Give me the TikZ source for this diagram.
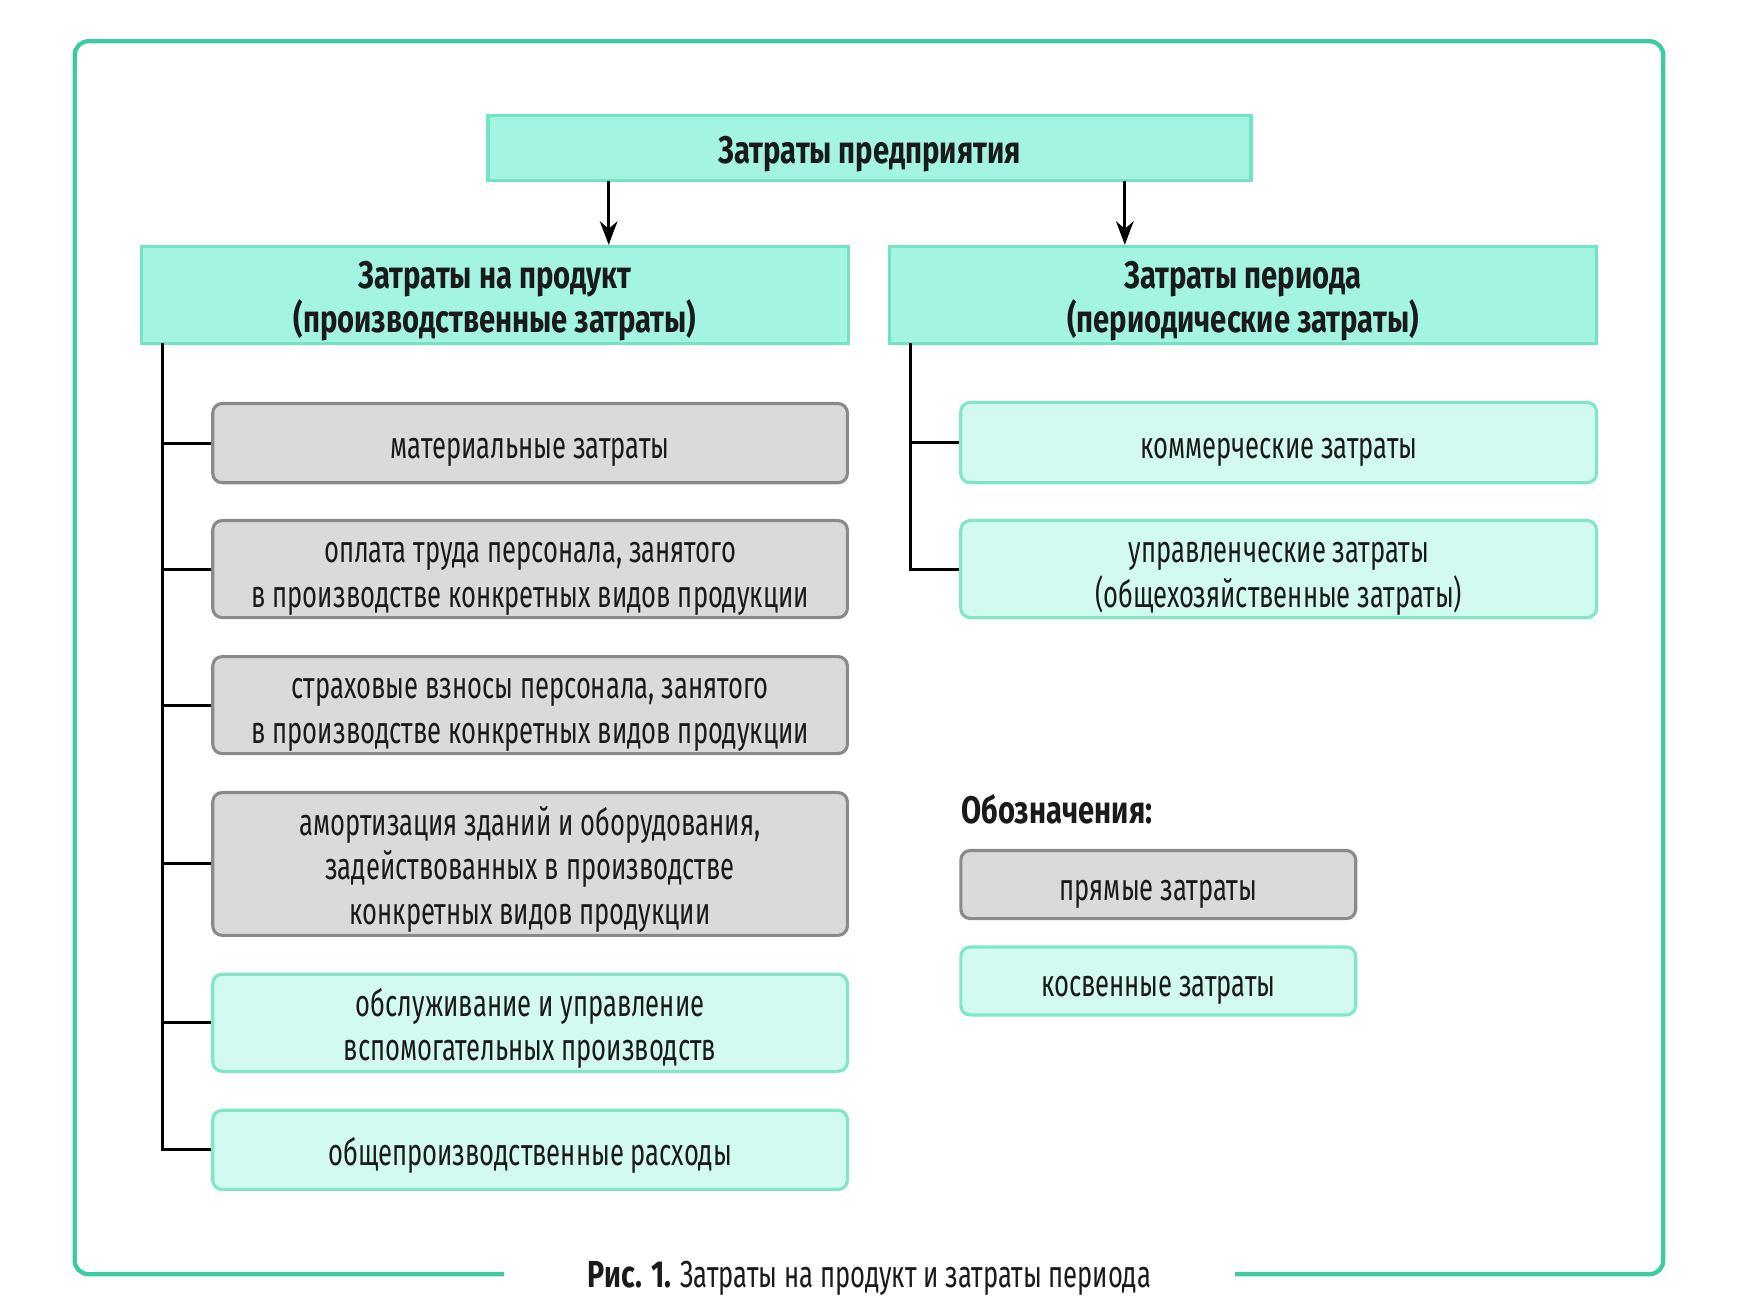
\documentclass[tikz,border=0pt]{standalone}
\usepackage{fontspec}
\setmainfont[FakeStretch=0.68]{Fira Sans}
\newfontfamily\headfont[FakeStretch=0.76]{Fira Sans}
\usetikzlibrary{arrows.meta}

\definecolor{framegreen}{HTML}{3CCCA2}
\definecolor{headfill}{HTML}{A3F5E2}
\definecolor{headline}{HTML}{72E3C4}
\definecolor{lightfill}{HTML}{D3FAF1}
\definecolor{lightline}{HTML}{7FE6C8}
\definecolor{greyfill}{HTML}{DADADA}
\definecolor{greyline}{HTML}{8A8A8A}
\definecolor{inktext}{HTML}{1A1A1A}

\begin{document}
\begin{tikzpicture}[x=0.01cm,y=-0.01cm,
        every node/.style={font=\fontsize{9.6}{11.4}\selectfont,text=inktext,align=center,inner sep=0pt},
        lift/.style={execute at begin node={\rule{0pt}{#1}}},
        box/.style={line width=0.8pt,lift=10pt},
        head/.style={box,draw=headline,fill=headfill,font=\fontsize{9.8}{11.4}\selectfont\headfont\bfseries},
        direct/.style={box,draw=greyline,fill=greyfill,rounded corners=2.4pt},
        indirect/.style={box,draw=lightline,fill=lightfill,rounded corners=2.4pt}]
    \useasboundingbox (0,0) rectangle (1568,1168);
    % outer frame, open at the bottom for the caption
    \draw[framegreen,line width=1.1pt,rounded corners=3.5pt]
        (452,1143) -| (67,37) -| (1492,1143) -- (1108,1143);
    \node (caption) at (780,1147) {{\headfont\bfseries Рис. 1.} Затраты на продукт и затраты периода};

    % top level
    \node[head,minimum width=6.84cm,minimum height=0.58cm] (total) at (780,133) {Затраты предприятия};
    \node[head,lift=21.5pt,minimum width=6.34cm,minimum height=0.87cm] (product) at (444,264.5)
        {Затраты на продукт\\(производственные затраты)};
    \node[head,lift=21.5pt,minimum width=6.34cm,minimum height=0.87cm] (period) at (1115,264.5)
        {Затраты периода\\(периодические затраты)};

    % product costs
    \begin{scope}[every node/.append style={minimum width=5.69cm}]
        \node[direct,minimum height=0.71cm] (p1) at (475.5,397.5) {материальные затраты};
        \node[direct,lift=21.5pt,minimum height=0.87cm] (p2) at (475.5,510.5)
            {оплата труда персонала, занятого\\в производстве конкретных видов продукции};
        \node[direct,lift=21.5pt,minimum height=0.87cm] (p3) at (475.5,632.5)
            {страховые взносы персонала, занятого\\в производстве конкретных видов продукции};
        \node[direct,lift=33pt,minimum height=1.28cm] (p4) at (475.5,775)
            {амортизация зданий и оборудования,\\задействованных в производстве\\конкретных видов продукции};
        \node[indirect,lift=21.5pt,minimum height=0.87cm] (p5) at (475.5,917.5)
            {обслуживание и управление\\вспомогательных производств};
        \node[indirect,minimum height=0.71cm] (p6) at (475.5,1031.5) {общепроизводственные расходы};
    \end{scope}

    % period costs
    \begin{scope}[every node/.append style={minimum width=5.70cm}]
        \node[indirect,minimum height=0.72cm] (q1) at (1147,397) {коммерческие затраты};
        \node[indirect,lift=21.5pt,minimum height=0.87cm] (q2) at (1147,510.5)
            {управленческие затраты\\(общехозяйственные затраты)};
    \end{scope}

    % legend
    \node[anchor=west,font=\fontsize{9.8}{11.4}\selectfont\headfont\bfseries] (legend) at (862,726) {Обозначения:};
    \begin{scope}[every node/.append style={minimum width=3.54cm,minimum height=0.61cm}]
        \node[direct] (kdirect) at (1039,793.5) {прямые затраты};
        \node[indirect] (kindirect) at (1039,880) {косвенные затраты};
    \end{scope}

    % arrows
    \coordinate (a1) at (546,162);
    \coordinate (a2) at (1009,162);
    \draw[line width=0.7pt,-{Stealth[length=6pt,width=4.5pt]}] (a1) -- (a1 |- product.north);
    \draw[line width=0.7pt,-{Stealth[length=6pt,width=4.5pt]}] (a2) -- (a2 |- period.north);

    % trees
    \coordinate (ltop) at (146,308);
    \coordinate (rtop) at (817,308);
    \draw[line width=0.75pt] (ltop) |- (p6.west);
    \foreach \n in {p1,p2,p3,p4,p5}
        \draw[line width=0.75pt] (ltop |- \n.west) -- (\n.west);
    \draw[line width=0.75pt] (rtop) |- (q2.west);
    \draw[line width=0.75pt] (rtop |- q1.west) -- (q1.west);
\end{tikzpicture}
\end{document}
